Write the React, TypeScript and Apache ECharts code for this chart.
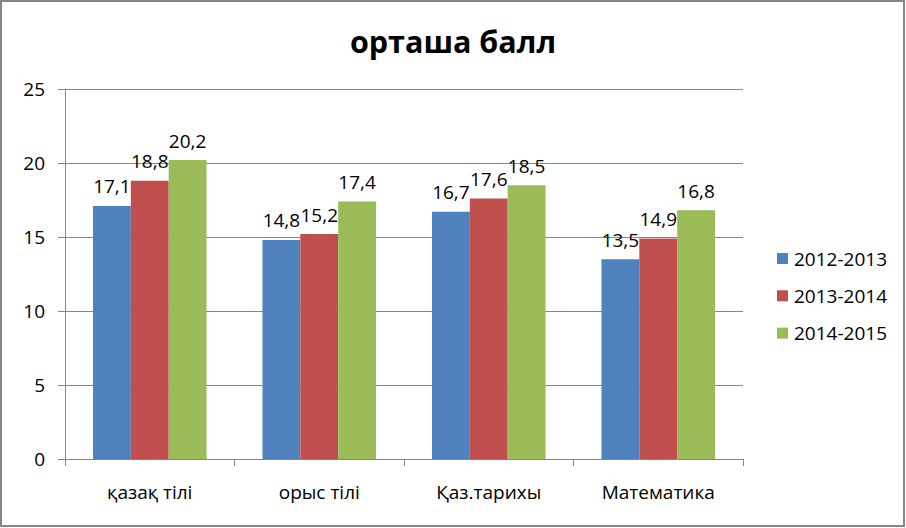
import React, { useEffect, useRef } from "react";
import * as echarts from "echarts";

const categories = ["қазақ тілі", "орыс тілі", "Қаз.тарихы", "Математика"];
const seriesNames = ["2012-2013", "2013-2014", "2014-2015"];
const values2012 = [17.1, 14.8, 16.7, 13.5];
const values2013 = [18.8, 15.2, 17.6, 14.9];
const values2014 = [20.2, 17.4, 18.5, 16.8];
const colors = ["#4F81BD", "#C0504D", "#9BBB59"];
const yTicks = { min: 0, max: 25, interval: 5 };

const FONT = "'Open Sans', 'Noto Sans', sans-serif";
const FS = 19;

export default function App() {
  const ref = useRef<HTMLDivElement>(null);
  useEffect(() => {
    document.body.style.margin = "0";
    if (!ref.current) return;
    const chart = echarts.init(ref.current, null, { renderer: "svg" });
    const data = [values2012, values2013, values2014];
    chart.setOption({
      animation: false,
      backgroundColor: "#ffffff",
      textStyle: { fontFamily: FONT },
      title: {
        text: "орташа балл",
        left: "center",
        top: 20,
        textStyle: { fontFamily: FONT, fontSize: 30.5, fontWeight: "bold", color: "#000" },
      },
      graphic: [
        {
          type: "rect",
          shape: { x: 1, y: 1, width: 903, height: 525 },
          style: { fill: "none", stroke: "#868686", lineWidth: 2 },
          silent: true,
        },
      ],
      legend: {
        orient: "vertical",
        left: 777,
        top: 249,
        padding: 0,
        itemWidth: 11,
        itemHeight: 11,
        itemGap: 18.3,
        icon: "rect",
        textStyle: {
          fontFamily: FONT,
          fontSize: FS,
          lineHeight: 19,
          color: "#000",
          padding: [0, 0, 0, 1],
        },
        data: seriesNames,
      },
      grid: { left: 65, right: 163, top: 89, bottom: 69, containLabel: false },
      xAxis: {
        type: "category",
        data: categories,
        axisLine: { lineStyle: { color: "#868686", width: 1 } },
        axisTick: { show: true, length: 7, lineStyle: { color: "#868686" } },
        axisLabel: { margin: 23, fontFamily: FONT, fontSize: FS, color: "#000" },
      },
      yAxis: {
        type: "value",
        min: yTicks.min,
        max: yTicks.max,
        interval: yTicks.interval,
        axisLine: { show: true, lineStyle: { color: "#868686", width: 1 } },
        axisTick: { show: true, length: 7, lineStyle: { color: "#868686" } },
        splitLine: { lineStyle: { color: "#868686", width: 1 } },
        axisLabel: { margin: 20, fontFamily: FONT, fontSize: FS, color: "#000" },
      },
      series: seriesNames.map((name, i) => ({
        name,
        type: "bar",
        data: data[i],
        barGap: "0%",
        barCategoryGap: "33%",
        itemStyle: { color: colors[i] },
        label: {
          show: true,
          position: "top",
          distance: 10,
          fontFamily: FONT,
          fontSize: FS,
          color: "#000",
          formatter: (p: any) => String(p.value).replace(".", ","),
        },
      })),
    });
    return () => chart.dispose();
  }, []);
  return <div ref={ref} style={{ width: 906, height: 528 }} />;
}
